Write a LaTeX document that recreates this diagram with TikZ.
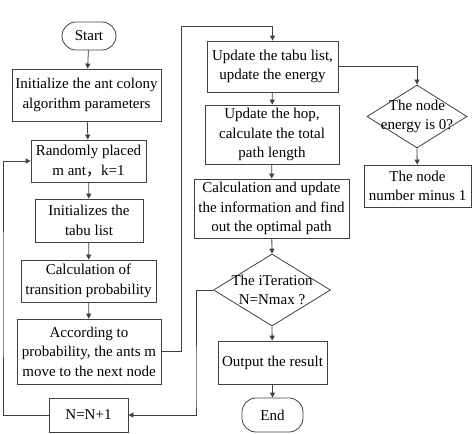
\documentclass[tikz,border=0pt]{standalone}
\usepackage{fontspec}
\setmainfont{Liberation Serif}
\newfontfamily\cjk{Noto Sans CJK SC}
\usetikzlibrary{shapes.geometric,arrows.meta}
\tikzset{
    flowline/.style={draw=black!75,line width=0.8pt},
    flowarrow/.style={flowline,-{Triangle[width=5pt,length=5pt]}},
    procbox/.style={draw=black!75,line width=0.8pt,align=center,inner sep=1pt,
        font=\fontsize{15}{19.5}\selectfont},
    termbox/.style={procbox,rounded corners=14pt},
    decbox/.style={draw=black!75,line width=0.8pt,diamond,inner sep=0pt}
}
\begin{document}
\begin{tikzpicture}[x=1pt,y=-1pt]
    \useasboundingbox (0,0) rectangle (472,434);
    \coordinate (loopup) at (181,26);
    \coordinate (loopdown) at (196,400);
    \coordinate (loopleft) at (3,300);

    \node[termbox,minimum width=54pt,minimum height=28pt] (start) at (89,36) {Start};
    \node[procbox,minimum width=149pt,minimum height=52pt] (init) at (86.5,95) {Initialize the ant colony\\algorithm parameters};
    \node[procbox,minimum width=115pt,minimum height=42pt] (place) at (88.5,161) {Randomly placed\\m ant{\cjk，}k=1};
    \node[procbox,minimum width=108pt,minimum height=43pt] (tabu) at (89,220.5) {Initializes the\\tabu list};
    \node[procbox,minimum width=135pt,minimum height=42pt] (trans) at (88.5,281) {Calculation of\\transition probability};
    \node[procbox,minimum width=144pt,minimum height=65pt] (move) at (89,351.5) {According to\\probability, the ants m\\move to the next node};
    \node[procbox,minimum width=79pt,minimum height=34pt] (incr) at (88.5,415) {N=N+1};

    \node[procbox,minimum width=131pt,minimum height=51pt] (uptabu) at (272.5,66.5) {Update the tabu list,\\update the energy};
    \node[procbox,minimum width=134pt,minimum height=59pt] (uphop) at (272,134.5) {Update the hop,\\calculate the total\\path length};
    \node[procbox,minimum width=155pt,minimum height=59pt] (optim) at (271.5,208.5) {Calculation and update\\the information and find\\out the optimal path};
    \node[decbox,minimum width=117pt,minimum height=72pt] (iter) at (272,290) {};
    \node[procbox,draw=none,inner sep=0pt] (itertext) at (iter.center) {The iTeration\\N=Nmax ?};
    \node[procbox,minimum width=109pt,minimum height=43pt] (result) at (272.5,362.5) {Output the result};
    \node[termbox,minimum width=61pt,minimum height=34pt] (finish) at (272.5,415) {End};

    \node[decbox,minimum width=100pt,minimum height=63pt] (energy) at (417,116.5) {};
    \node[procbox,draw=none,inner sep=0pt] (energytext) at (energy.center) {The node\\energy is 0?};
    \node[procbox,minimum width=107pt,minimum height=42pt] (minus) at (417.5,186) {The node\\number minus 1};

    \draw[flowarrow] (start) -- (init);
    \draw[flowarrow] (init) -- (place);
    \draw[flowarrow] (place) -- (tabu);
    \draw[flowarrow] (tabu) -- (trans);
    \draw[flowarrow] (trans) -- (move);
    \draw[flowarrow] (move.east) -| (loopup) -| (uptabu.north);
    \draw[flowarrow] (uptabu) -- (uphop);
    \draw[flowarrow] (uphop) -- (optim);
    \draw[flowarrow] (optim) -- (iter.north);
    \draw[flowarrow] (iter.south) -- (result);
    \draw[flowarrow] (result) -- (finish);
    \draw[flowarrow] (uptabu.east) -| (energy.north);
    \draw[flowarrow] (energy.south) -- (minus);
    \draw[flowarrow] (iter.west) -| (loopdown) |- (incr.east);
    \draw[flowarrow] (incr.west) -| (loopleft) |- (place.west);
\end{tikzpicture}
\end{document}
